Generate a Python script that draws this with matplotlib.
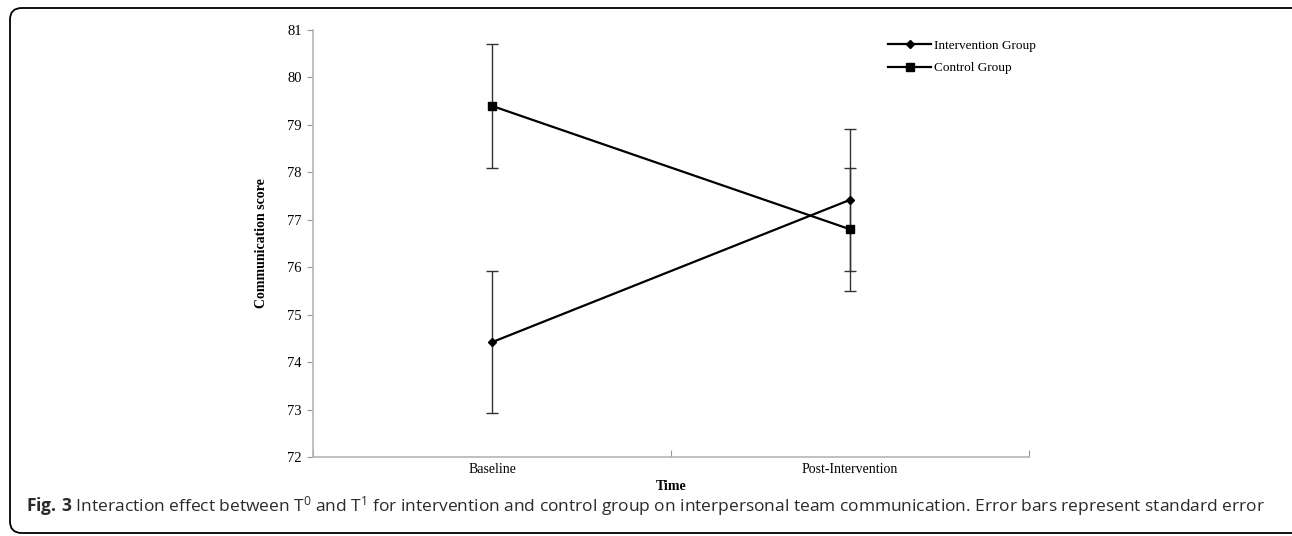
import matplotlib
matplotlib.use('Agg')
import matplotlib.pyplot as plt
from matplotlib.patches import FancyBboxPatch
from matplotlib.lines import Line2D
import numpy as np

plt.rcParams['font.family'] = ['Liberation Serif', 'DejaVu Serif']
plt.rcParams['mathtext.fontset'] = 'custom'
plt.rcParams['mathtext.rm'] = 'Open Sans'
plt.rcParams['mathtext.it'] = 'Open Sans'
plt.rcParams['mathtext.bf'] = 'Open Sans:bold'

# data
time_points = ['Baseline', 'Post-Intervention']
intervention = [74.42, 77.42]
intervention_se = [1.5, 1.5]
control = [79.4, 76.8]
control_se = [1.3, 1.3]
y_ticks = [72, 73, 74, 75, 76, 77, 78, 79, 80, 81]

W, H = 1292, 536
fig = plt.figure(figsize=(W / 100, H / 100), dpi=100)

# rounded frame around the whole figure (pixel top 8, bottom 533, right edge cut off)
frame = FancyBboxPatch((10 / W, 3 / H), 1320 / W - 10 / W, 525 / H,
                       boxstyle='round,pad=0,rounding_size=0.009',
                       transform=fig.transFigure, fill=False, clip_on=False,
                       edgecolor='black', linewidth=1.3, mutation_aspect=W / H)
fig.patches.append(frame)

ax = fig.add_axes([313 / W, 1 - 457 / H, (1029 - 313) / W, (457 - 30) / H])

x = np.arange(len(time_points)) + 0.5
ax.errorbar(x, intervention, yerr=intervention_se, color='black', lw=1.6,
            marker='D', markersize=4.5, ecolor='#333333', elinewidth=1.0,
            capsize=4, capthick=1.0)
ax.errorbar(x, control, yerr=control_se, color='black', lw=1.6,
            marker='s', markersize=6, ecolor='#333333', elinewidth=1.0,
            capsize=4, capthick=1.0)

ax.set_xlim(0, 2)
ax.set_ylim(72, 81)
ax.set_yticks(y_ticks)
ax.set_yticklabels([str(v) for v in y_ticks], fontsize=10.5)
ax.set_xticks([0, 1, 2])
ax.set_xticklabels([])
ax.set_xticks(x, minor=True)
ax.set_xticklabels(time_points, minor=True, fontsize=10)
ax.tick_params(axis='x', which='minor', length=0, pad=4)
ax.tick_params(axis='x', which='major', direction='in', length=5, color='#999999')
ax.tick_params(axis='y', direction='out', length=4, color='#999999', pad=4)

for side in ['top', 'right']:
    ax.spines[side].set_visible(False)
for side in ['left', 'bottom']:
    ax.spines[side].set_color('#b5b5b5')
    ax.spines[side].set_linewidth(1.2)

ax.set_ylabel('Communication score', fontsize=10, fontweight='bold', labelpad=14)
ax.set_xlabel('Time', fontsize=10, fontweight='bold', labelpad=3)

handles = [Line2D([], [], color='black', lw=1.6, marker='D', markersize=4.5),
           Line2D([], [], color='black', lw=1.6, marker='s', markersize=6)]
ax.legend(handles, ['Intervention Group', 'Control Group'],
          loc='upper left', bbox_to_anchor=(876 / W, 1 - 28 / H),
          bbox_transform=fig.transFigure, frameon=False, fontsize=9.5,
          handlelength=3.3, handletextpad=0.2, labelspacing=0.75)

caption = (r'$\mathbf{Fig.\,3}$ Interaction effect between T$^0$ and T$^1$ for intervention '
           'and control group on interpersonal team communication. Error bars represent standard error')
fig.text(26 / W, 1 - 506 / H, caption, family='Open Sans', fontsize=12.5,
         color='#2a2a2a', va='center', ha='left')

fig.savefig('out.png', dpi=100)
